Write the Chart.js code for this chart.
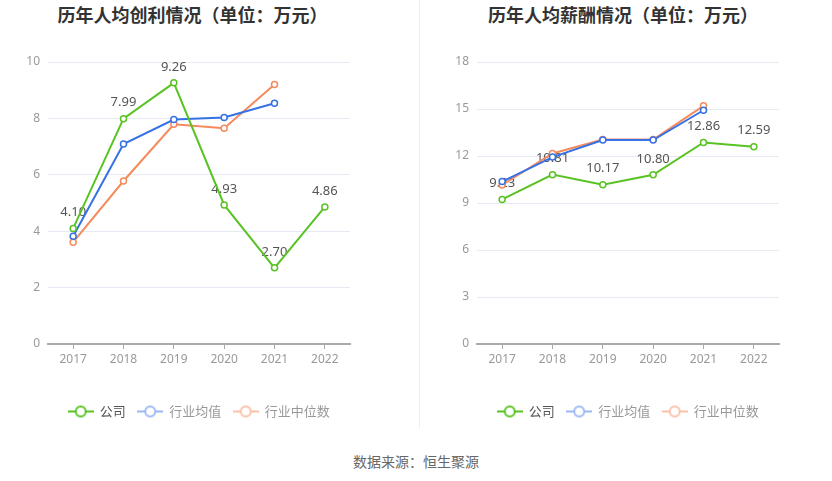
<!DOCTYPE html>
<html>
<head>
<meta charset="utf-8">
<script src="https://cdn.jsdelivr.net/npm/chart.js@4.4.0/dist/chart.umd.min.js"></script>
<style>
  body { margin: 0; background: #fff; width: 832px; height: 481px; overflow: hidden; position: relative;
         font-family: "Noto Sans CJK SC", "Noto Sans", sans-serif; }
  .title { position: absolute; top: 0; line-height: 28px; font-size: 18px; font-weight: bold; color: #333; text-align: center; }
  .box { position: absolute; top: 0; width: 398px; height: 440px; }
  #divider { position: absolute; left: 419px; top: 0; width: 1px; height: 428px; background: #eeeeee; }
  #source { position: absolute; top: 451px; left: 0; width: 832px; text-align: center; font-size: 14px; line-height: 20px; color: #666; }
</style>
</head>
<body>
<div class="title" style="left:0;width:385px;">历年人均创利情况（单位：万元）</div>
<div class="title" style="left:423px;width:400px;">历年人均薪酬情况（单位：万元）</div>
<div class="box" style="left:0;"><canvas id="profit"></canvas></div>
<div id="divider"></div>
<div class="box" style="left:429px;"><canvas id="salary"></canvas></div>
<div id="source">数据来源：恒生聚源</div>
<script>
var years = ["2017", "2018", "2019", "2020", "2021", "2022"];
var seriesNames = ["公司", "行业均值", "行业中位数"];

// 人均创利
var profitCompany = [4.10, 7.99, 9.26, 4.93, 2.70, 4.86];
var profitAvg = [3.82, 7.09, 7.96, 8.03, 8.54, null];
var profitMedian = [3.61, 5.78, 7.79, 7.65, 9.20, null];
var profitTicks = [0, 2, 4, 6, 8, 10];

// 人均薪酬
var salaryCompany = [9.23, 10.81, 10.17, 10.80, 12.86, 12.59];
var salaryAvg = [10.37, 11.93, 13.02, 13.02, 14.92, null];
var salaryMedian = [10.15, 12.16, 13.05, 13.05, 15.20, null];
var salaryTicks = [0, 3, 6, 9, 12, 15, 18];

var colors = ["#58c322", "#3672e6", "#f58a5c"];
var legendColors = ["#58c322", "#9cb9f3", "#f9c1a9"];
var legendText = ["#555555", "#999999", "#999999"];

///legend marker: line with hollow circle
function marker(color) {
  var c = document.createElement("canvas");
  c.width = 26;
  c.height = 14;
  var ctx = c.getContext("2d");
  ctx.strokeStyle = color;
  ctx.lineWidth = 2;
  ctx.beginPath();
  ctx.moveTo(0, 7);
  ctx.lineTo(26, 7);
  ctx.stroke();
  ctx.beginPath();
  ctx.arc(13, 7, 5, 0, Math.PI * 2);
  ctx.fillStyle = "#fff";
  ctx.fill();
  ctx.stroke();
  return c;
}

///value labels above the company line
var valueLabels = {
  id: "valueLabels",
  beforeDatasetsDraw: function (chart) {
    var ctx = chart.ctx;
    var meta = chart.getDatasetMeta(0);
    var data = chart.data.datasets[0].data;
    ctx.save();
    ctx.font = "13px 'Noto Sans', 'Noto Sans CJK SC', sans-serif";
    ctx.fillStyle = "#555";
    ctx.textAlign = "center";
    ctx.textBaseline = "middle";
    meta.data.forEach(function (pt, i) {
      ctx.fillText(data[i].toFixed(2), pt.x, pt.y - 16);
    });
    ctx.restore();
  },
};

function makeChart(id, company, avg, median, ticks) {
  var series = [company, avg, median];
  var datasets = series.map(function (d, i) {
    return {
      label: seriesNames[i],
      data: d,
      borderColor: colors[i],
      backgroundColor: colors[i],
      borderWidth: 2,
      pointRadius: 3,
      pointBorderWidth: 1.5,
      pointBackgroundColor: "#fff",
      pointBorderColor: colors[i],
      tension: 0,
      spanGaps: false,
    };
  });

  return new Chart(document.getElementById(id), {
    type: "line",
    data: { labels: years, datasets: datasets },
    plugins: [valueLabels],
    options: {
      responsive: true,
      maintainAspectRatio: false,
      animation: false,
      layout: { padding: { top: 62, right: 48, bottom: 12, left: 0 } },
      plugins: {
        tooltip: { enabled: false },
        legend: {
          position: "bottom",
          fullSize: false,
          labels: {
            usePointStyle: true,
            pointStyleWidth: 25,
            padding: 12,
            font: { size: 13, family: "'Noto Sans CJK SC', sans-serif" },
            generateLabels: function (chart) {
              return chart.data.datasets.map(function (ds, i) {
                return {
                  text: ds.label,
                  datasetIndex: i,
                  pointStyle: marker(legendColors[i]),
                  fillStyle: legendColors[i],
                  strokeStyle: legendColors[i],
                  fontColor: legendText[i],
                  lineWidth: 0,
                  hidden: false,
                };
              });
            },
          },
        },
      },
      scales: {
        x: {
          offset: true,
          afterFit: function (scale) {
            scale.height = 49;
          },
          grid: {
            drawOnChartArea: false,
            drawTicks: true,
            tickLength: 5,
            color: "#aaaaaa",
          },
          border: { color: "#aaaaaa", width: 2 },
          ticks: {
            color: "#999",
            padding: 3,
            font: { size: 12, family: "'Noto Sans', sans-serif" },
          },
        },
        y: {
          min: ticks[0],
          max: ticks[ticks.length - 1],
          afterFit: function (scale) {
            scale.width = 48;
          },
          afterBuildTicks: function (scale) {
            scale.ticks = ticks.map(function (v) {
              return { value: v };
            });
          },
          grid: { color: "#e6eaf2", drawTicks: false },
          border: { display: false },
          ticks: {
            color: "#999",
            padding: 8,
            font: { size: 12, family: "'Noto Sans', sans-serif" },
          },
        },
      },
    },
  });
}

makeChart("profit", profitCompany, profitAvg, profitMedian, profitTicks);
makeChart("salary", salaryCompany, salaryAvg, salaryMedian, salaryTicks);
</script>
</body>
</html>
